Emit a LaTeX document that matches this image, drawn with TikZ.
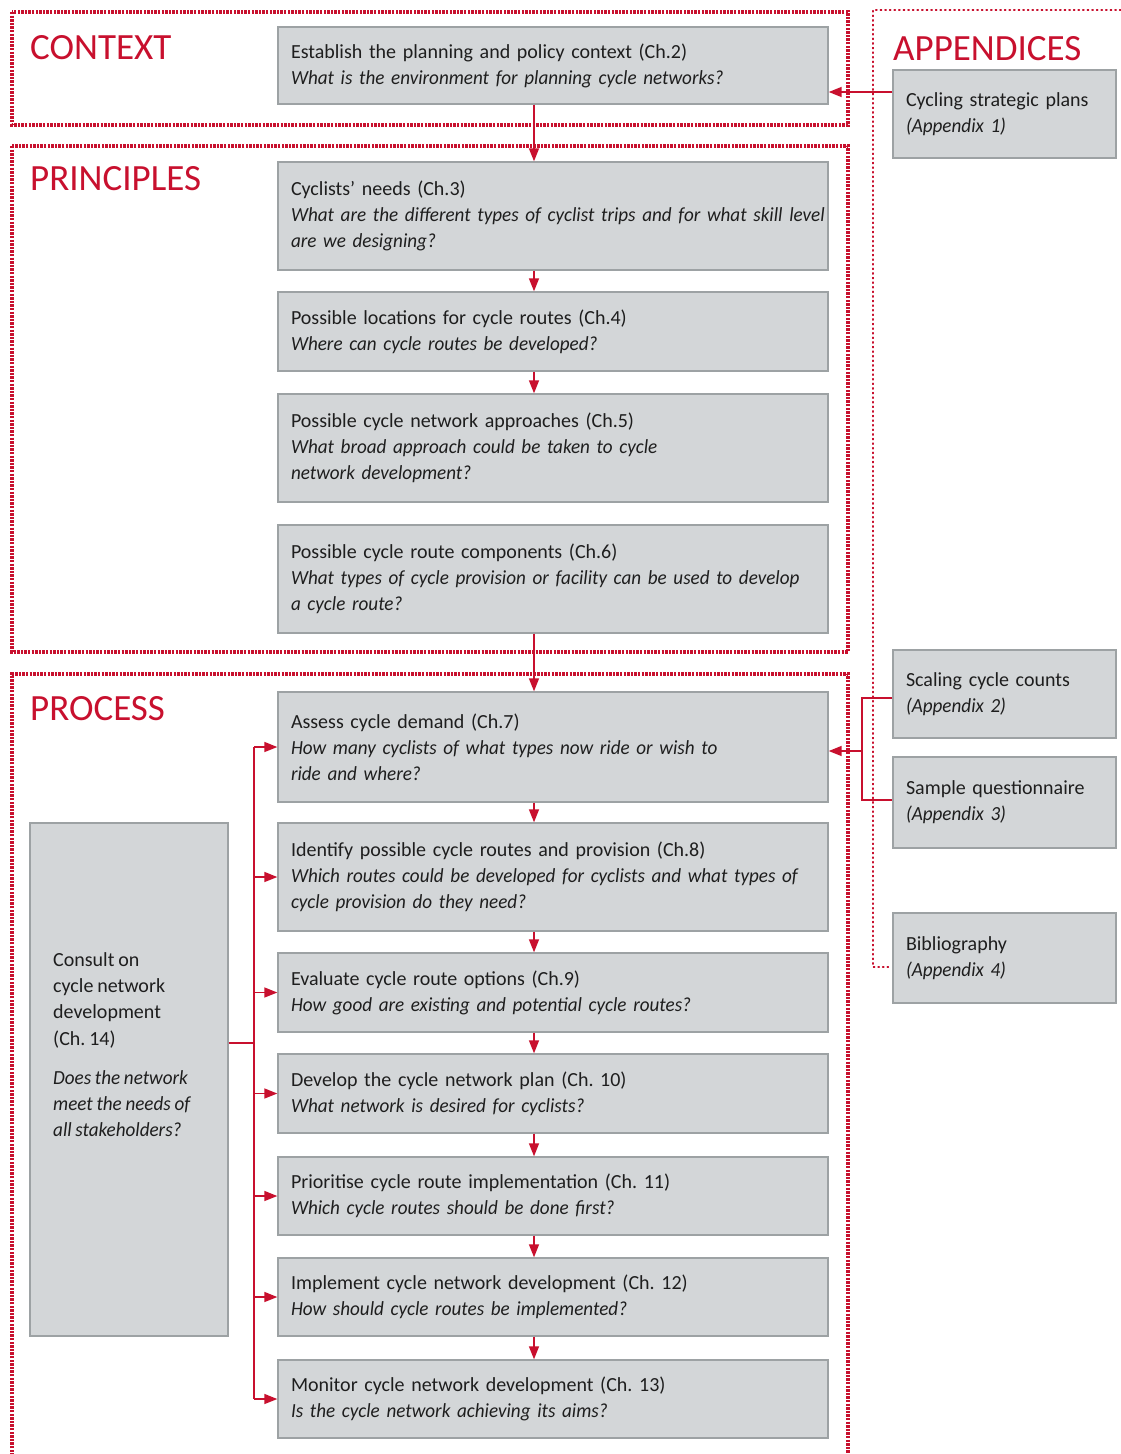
\documentclass[tikz,border=0pt]{standalone}
\usepackage{fontspec}
\setmainfont{Carlito}[WordSpace=0.85, ItalicFeatures={FakeStretch=0.955}]
\usetikzlibrary{arrows.meta}
\definecolor{crim}{HTML}{C8102E}
\definecolor{boxfill}{HTML}{D3D6D8}
\definecolor{boxline}{HTML}{9DA2A4}
\definecolor{ink}{HTML}{1E1E1E}
\newcommand\Qr[1]{\mbox{#1}}
\newcommand\Qi[1]{\mbox{\itshape #1}}
\frenchspacing
\begin{document}
\begin{tikzpicture}[x=1pt,y=-1pt,
  mbox/.style={draw=boxline, fill=boxfill, line width=1.4pt, minimum width=550pt, text width=524pt, inner xsep=13pt, inner ysep=0pt, align=left, font=\fontsize{20}{26}\selectfont, text=ink},
  abox/.style={draw=boxline, fill=boxfill, line width=1.4pt, minimum width=223pt, text width=197pt, inner xsep=13pt, inner ysep=0pt, align=left, font=\fontsize{20}{26}\selectfont, text=ink},
  ttl/.style={text=crim, font=\fontsize{37}{40}\selectfont, anchor=base west, inner sep=0pt},
  arr/.style={draw=crim, line width=1.5pt, -{Triangle[length=13pt,width=10pt]}},
  lnk/.style={draw=crim, line width=1.5pt},
  frm/.style={draw=crim, line width=3.4pt, dash pattern=on 2.4pt off 1.2pt},
  afrm/.style={draw=crim, line width=1.3pt, dash pattern=on 1.3pt off 3.3pt, line cap=round}]
\fill[white] (0,0) rectangle (1120,1454);
\useasboundingbox (0,0) rectangle (1120,1454);

% frames
\draw[frm] (12,12) rectangle (848,125);
\draw[frm] (12,146) rectangle (848,652);
\draw[frm] (12,1470) -- (12,674) -- (848,674) -- (848,1470);
\draw[afrm] (1130,10) -- (873,10) -- (873,967) -- (891,967);

% titles
\node[ttl] (tcontext) at (30,59) {CONTEXT};
\node[ttl] (tprinciples) at (30,190) {PRINCIPLES};
\node[ttl] (tprocess) at (30,720) {PROCESS};
\node[ttl] (tappendices) at (893,60) {APPENDICES};

% main boxes
\node[mbox, minimum height=77pt] (b1) at (553,65.5) {\Qr{Establish the planning and policy context (Ch.2)}\\\Qi{What is the environment for planning cycle networks?}};
\node[mbox, minimum height=108pt] (b2) at (553,216) {\Qr{Cyclists’ needs (Ch.3)}\\\Qi{What are the different types of cyclist trips and for what skill level}\\\Qi{are we designing?}};
\node[mbox, minimum height=79pt] (b3) at (553,331.5) {\Qr{Possible locations for cycle routes (Ch.4)}\\\Qi{Where can cycle routes be developed?}};
\node[mbox, minimum height=108pt] (b4) at (553,448) {\Qr{Possible cycle network approaches (Ch.5)}\\\Qi{What broad approach could be taken to cycle}\\\Qi{network development?}};
\node[mbox, minimum height=108pt] (b5) at (553,579) {\Qr{Possible cycle route components (Ch.6)}\\\Qi{What types of cycle provision or facility can be used to develop}\\\Qi{a cycle route?}};
\node[mbox, minimum height=110pt] (b6) at (553,747) {\Qr{Assess cycle demand (Ch.7)}\\\Qi{How many cyclists of what types now ride or wish to}\\\Qi{ride and where?}};
\node[mbox, minimum height=108pt] (b7) at (553,877) {\Qr{Identify possible cycle routes and provision (Ch.8)}\\\Qi{Which routes could be developed for cyclists and what types of}\\\Qi{cycle provision do they need?}};
\node[mbox, minimum height=79pt] (b8) at (553,992.5) {\Qr{Evaluate cycle route options (Ch.9)}\\\Qi{How good are existing and potential cycle routes?}};
\node[mbox, minimum height=79pt] (b9) at (553,1093.5) {\Qr{Develop the cycle network plan (Ch. 10)}\\\Qi{What network is desired for cyclists?}};
\node[mbox, minimum height=78pt] (b10) at (553,1196) {\Qr{Prioritise cycle route implementation (Ch. 11)}\\\Qi{Which cycle routes should be done first?}};
\node[mbox, minimum height=78pt] (b11) at (553,1297) {\Qr{Implement cycle network development (Ch. 12)}\\\Qi{How should cycle routes be implemented?}};
\node[mbox, minimum height=78pt] (b12) at (553,1399) {\Qr{Monitor cycle network development (Ch. 13)}\\\Qi{Is the cycle network achieving its aims?}};

% consult box
\node[draw=boxline, fill=boxfill, line width=1.4pt, minimum width=198pt, minimum height=513pt, inner sep=0pt] (consult) at (129,1079.5) {};
\node[anchor=north west, inner sep=0pt, align=left, font=\fontsize{20}{26.3}\selectfont, text=ink] (consulttext) at (53,952) {Consult on\\cycle network\\development\\(Ch. 14)\\[13pt]\Qi{Does the network}\\\Qi{meet the needs of}\\\Qi{all stakeholders?}};

% appendix boxes
\node[abox, minimum height=88pt] (a1) at (1004.5,114) {\Qr{Cycling strategic plans}\\\Qi{(Appendix 1)}};
\node[abox, minimum height=88pt] (a2) at (1004.5,694) {\Qr{Scaling cycle counts}\\\Qi{(Appendix 2)}};
\node[abox, minimum height=91pt] (a3) at (1004.5,802.5) {\Qr{Sample questionnaire}\\\Qi{(Appendix 3)}};
\node[abox, minimum height=90pt] (a4) at (1004.5,958) {\Qr{Bibliography}\\\Qi{(Appendix 4)}};

% helper coordinates
\coordinate (ax) at (534,0);
\coordinate (lx) at (254,0);
\coordinate (cj) at (254,1043);
\coordinate (r1) at (0,92);
\coordinate (j2) at (862,698);
\coordinate (j3) at (862,800);
\coordinate (j6) at (862,751);

% vertical flow
\draw[arr] (b1.south -| ax) -- (b2.north -| ax);
\draw[arr] (b2.south -| ax) -- (b3.north -| ax);
\draw[arr] (b3.south -| ax) -- (b4.north -| ax);
\draw[arr] (b5.south -| ax) -- (b6.north -| ax);
\draw[arr] (b6.south -| ax) -- (b7.north -| ax);
\draw[arr] (b7.south -| ax) -- (b8.north -| ax);
\draw[arr] (b8.south -| ax) -- (b9.north -| ax);
\draw[arr] (b9.south -| ax) -- (b10.north -| ax);
\draw[arr] (b10.south -| ax) -- (b11.north -| ax);
\draw[arr] (b11.south -| ax) -- (b12.north -| ax);

% consult bracket
\draw[lnk] (consult.east |- cj) -- (cj);
\draw[lnk] (b6.west -| lx) -- (b12.west -| lx);
\foreach \b in {b6,b7,b8,b9,b10,b11,b12} {
  \draw[arr] (\b.west -| lx) -- (\b.west);
}

% appendix links
\draw[arr] (a1.west |- r1) -- (b1.east |- r1);
\draw[lnk] (a2.west |- j2) -- (j2) -- (j3) -- (a3.west |- j3);
\draw[arr] (j6) -- (b6.east |- j6);
\end{tikzpicture}
\end{document}
